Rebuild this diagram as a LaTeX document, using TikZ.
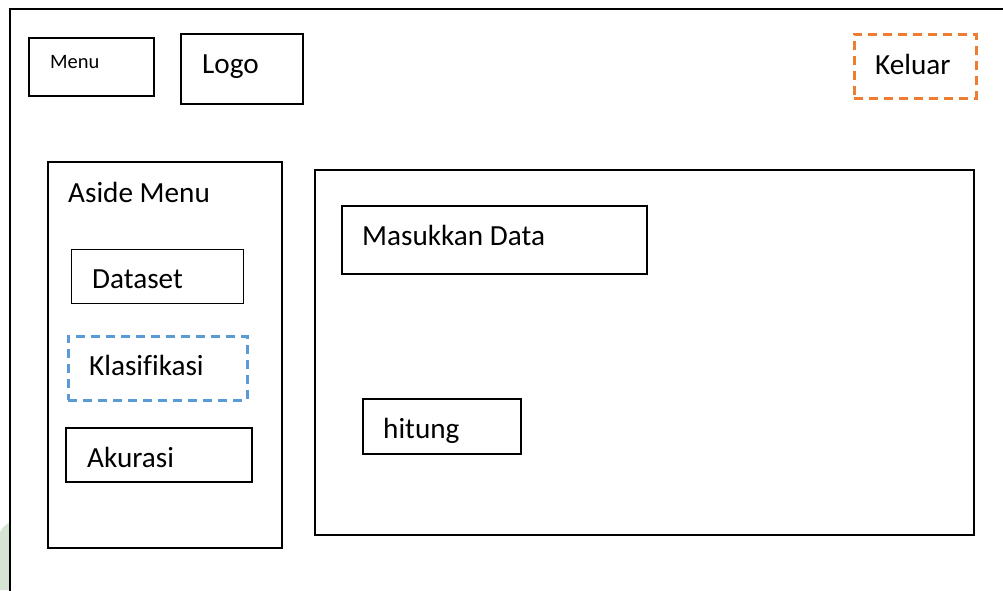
\documentclass[tikz,border=0pt]{standalone}
\usepackage{fontspec}
\setmainfont[Ligatures=NoCommon]{Carlito}
\definecolor{orangeD}{HTML}{ED7D31}
\definecolor{blueD}{HTML}{5B9BD5}
\definecolor{wmgreen}{HTML}{D6E4D3}
\tikzset{
  box/.style={draw=black, line width=1.6pt, rectangle, inner sep=0pt, anchor=north west},
  dbox/.style={box, line width=2.6pt, dash pattern=on 9pt off 6pt},
  lbl/.style={anchor=base west, inner sep=0pt, font=\fontsize{29.2}{31}\selectfont},
  slbl/.style={anchor=base west, inner sep=0pt, font=\fontsize{20.5}{22}\selectfont},
}
\begin{document}
\begin{tikzpicture}[x=1pt, y=-1pt]
\useasboundingbox (0,0) rectangle (1003,590);
\fill[white] (0,0) rectangle (1003,590);
% watermark fragment
\fill[wmgreen] (0,532) .. controls (3,527) and (6,524) .. (9,523) -- (9,590) -- (0,590) -- cycle;
% outer frame
\coordinate (frameA) at (10,9);
\coordinate (frameB) at (1020,600);
\draw[line width=1.8pt] (frameA) rectangle (frameB);
% header
\node[box, minimum width=125pt, minimum height=58pt] (menu) at (28,37) {};
\node[slbl] (menut) at (50,68) {Menu};
\node[box, minimum width=122pt, minimum height=70pt] (logo) at (180,33) {};
\node[lbl] (logot) at (202,73) {Logo};
\node[dbox, draw=orangeD, minimum width=122pt, minimum height=64pt] (keluar) at (853,33) {};
\node[lbl] (keluart) at (875,74) {Keluar};
% aside
\node[box, minimum width=234pt, minimum height=386pt] (aside) at (47,161) {};
\node[lbl] (asidet) at (68,202) {Aside Menu};
\node[box, line width=1.2pt, minimum width=172pt, minimum height=54pt] (dataset) at (71,249) {};
\node[lbl] (datasett) at (92,288) {Dataset};
\node[dbox, draw=blueD, minimum width=179pt, minimum height=64pt] (klas) at (67,335) {};
\node[lbl] (klast) at (89,375) {Klasifikasi};
\node[box, minimum width=186pt, minimum height=54pt] (akurasi) at (65,427) {};
\node[lbl] (akurasit) at (87,467) {Akurasi};
% main
\node[box, minimum width=659pt, minimum height=365pt] (main) at (314,169) {};
\node[box, minimum width=305pt, minimum height=68pt] (masuk) at (341,205) {};
\node[lbl] (masukt) at (362,245) {Masukkan Data};
\node[box, minimum width=158pt, minimum height=55pt] (hitung) at (362,398) {};
\node[lbl] (hitungt) at (383,438) {hitung};
\end{tikzpicture}
\end{document}
